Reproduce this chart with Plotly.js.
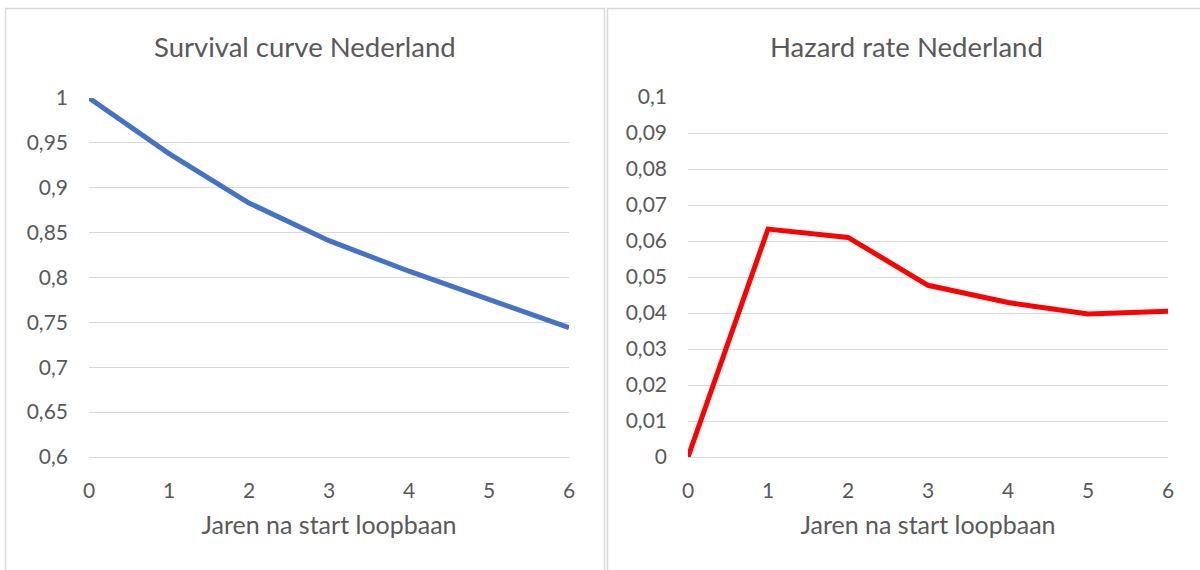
<!DOCTYPE html>
<html>
<head>
<meta charset="utf-8">
<script src="https://cdn.plot.ly/plotly-3.0.1.min.js"></script>
<style>
html,body{margin:0;padding:0;background:#fff;}
#chart{width:1200px;height:570px;}
</style>
</head>
<body>
<div id="chart"></div>
<script>
// Data
const years = [0, 1, 2, 3, 4, 5, 6];
const survival = [1.0, 0.938, 0.883, 0.841, 0.807, 0.776, 0.744];
const hazard = [0.0, 0.0633, 0.061, 0.0477, 0.0429, 0.0397, 0.0405];
const survivalTitle = "Survival curve Nederland";
const hazardTitle = "Hazard rate Nederland";
const xTitle = "Jaren na start loopbaan";

const W = 1200, H = 570;
const FONT = "Lato, 'Open Sans', sans-serif";
const TXT = "#595959";
const GRID = "#D9D9D9";

const px = x => x / W;
const py = y => 1 - y / H;

const commaFmt = v => String(+v.toFixed(4)).replace('.', ',');

const sTicks = [];
for (let i = 0; i <= 8; i++) sTicks.push(+(0.6 + i * 0.05).toFixed(2));
const hTicks = [];
for (let i = 0; i <= 10; i++) hTicks.push(+(i * 0.01).toFixed(2));

const traces = [
  {x: years, y: survival, type: 'scatter', mode: 'lines', xaxis: 'x', yaxis: 'y',
   line: {color: '#4472C4', width: 5}, hoverinfo: 'x+y'},
  {x: years, y: hazard, type: 'scatter', mode: 'lines', xaxis: 'x2', yaxis: 'y2',
   line: {color: '#FF0000', width: 5}, hoverinfo: 'x+y'}
];

const xBase = {
  range: [0, 6], tickvals: years, ticktext: years.map(String),
  showgrid: false, zeroline: false, showline: true, linecolor: GRID, linewidth: 1,
  ticks: '', ticklen: 0, ticklabelstandoff: 15,
  tickfont: {family: FONT, size: 21, color: TXT},
  title: {text: xTitle, font: {family: FONT, size: 25, color: TXT}, standoff: 15},
  fixedrange: true
};
const yBase = {
  showgrid: true, gridcolor: GRID, gridwidth: 1, zeroline: false, showline: false,
  ticks: '', ticklabelstandoff: 20,
  tickfont: {family: FONT, size: 21, color: TXT}, fixedrange: true
};

const layout = {
  width: W, height: H,
  margin: {l: 0, r: 0, t: 0, b: 0},
  paper_bgcolor: '#fff', plot_bgcolor: '#fff',
  showlegend: false,
  xaxis: Object.assign({}, xBase, {domain: [px(89), px(569)], anchor: 'y'}),
  yaxis: Object.assign({}, yBase, {domain: [py(457), py(98)], anchor: 'x', range: [0.6, 1.0],
    tickvals: sTicks, ticktext: sTicks.map(commaFmt)}),
  xaxis2: Object.assign({}, xBase, {domain: [px(688), px(1168)], anchor: 'y2'}),
  yaxis2: Object.assign({}, yBase, {domain: [py(457), py(97)], anchor: 'x2', range: [0, 0.1],
    tickvals: hTicks, ticktext: hTicks.map(commaFmt)}),
  annotations: [
    {text: survivalTitle, xref: 'paper', yref: 'paper', x: px(305), y: py(46),
     xanchor: 'center', yanchor: 'middle', showarrow: false,
     font: {family: FONT, size: 27.5, color: TXT}},
    {text: hazardTitle, xref: 'paper', yref: 'paper', x: px(906), y: py(46),
     xanchor: 'center', yanchor: 'middle', showarrow: false,
     font: {family: FONT, size: 27.5, color: TXT}}
  ],
  shapes: [
    {type: 'rect', xref: 'paper', yref: 'paper', x0: px(5.5), x1: px(604.5), y0: py(575), y1: py(8.5),
     line: {color: GRID, width: 1.5}, fillcolor: 'rgba(0,0,0,0)', layer: 'below'},
    {type: 'rect', xref: 'paper', yref: 'paper', x0: px(607.5), x1: px(1210), y0: py(575), y1: py(8.5),
     line: {color: GRID, width: 1.5}, fillcolor: 'rgba(0,0,0,0)', layer: 'below'}
  ]
};

Plotly.newPlot('chart', traces, layout, {displayModeBar: false});
</script>
</body>
</html>
